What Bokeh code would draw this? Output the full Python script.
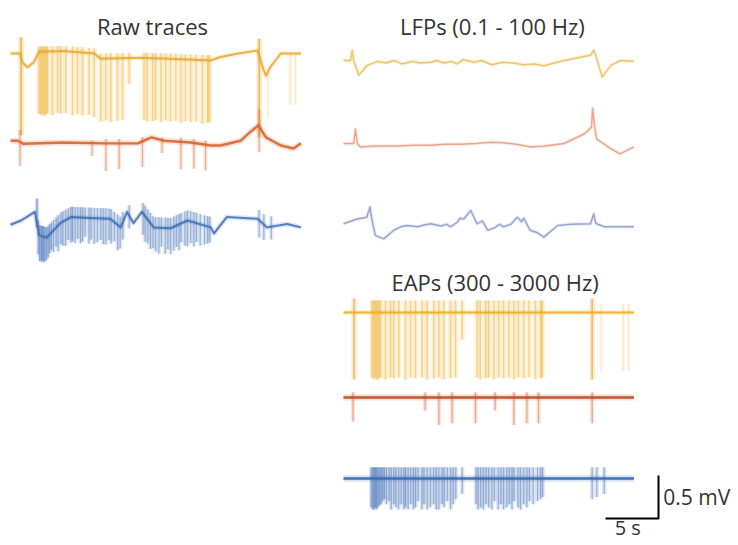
import numpy as np
from bokeh.plotting import figure
from bokeh.models import Range1d, Label
from bokeh.embed import file_html
from bokeh.resources import INLINE

# ---------------- data (time in s, voltage in mV relative to trace baseline) ----------------
titles = ["Raw traces", "LFPs (0.1 - 100 Hz)", "EAPs (300 - 3000 Hz)"]
scale_labels = ["0.5 mV", "5 s"]
scale_t = 5.0      # s
scale_v = 0.5      # mV
duration = 27.4    # s

# raw traces: slow components
raw_yel_t = [0, 0.9, 1.1, 1.6, 2.2, 2.7, 5.0, 7.9, 8.5, 12.0, 15.0, 18.9, 19.8, 21.5, 23.3, 23.9, 24.1, 24.5, 25.5, 27.4]
raw_yel_v = [0, 0, -0.1, -0.16, -0.1, 0.02, 0.03, 0.0, -0.06, -0.05, -0.06, -0.08, -0.04, 0.0, 0.035, -0.2, -0.26, -0.16, 0.0, 0.0]
raw_red_t = [0, 0.7, 1.2, 5.0, 9.0, 12.0, 13.3, 14.5, 17.0, 18.9, 19.8, 21.7, 22.6, 23.4, 24.1, 25.5, 26.7, 27.4]
raw_red_v = [0.02, 0.02, -0.015, 0.0, -0.01, -0.01, 0.06, 0.02, 0.0, -0.035, -0.035, 0.02, 0.12, 0.2, 0.06, -0.035, -0.07, -0.01]
raw_blu_t = [0, 1.0, 2.3, 2.7, 3.4, 4.7, 5.7, 7.5, 9.4, 10.4, 11.0, 11.6, 12.4, 13.5, 15.1, 16.7, 18.9, 19.2, 20.4, 23.3, 24.2, 26.1, 27.4]
raw_blu_v = [-0.05, 0.0, 0.1, -0.17, -0.2, -0.03, 0.04, 0.03, 0.02, -0.08, 0.1, -0.03, 0.1, -0.08, -0.09, 0.0, -0.08, -0.15, 0.04, 0.02, -0.08, -0.04, -0.08]

# LFPs
lfp_yel_t = [0, 0.66, 0.82, 0.95, 1.45, 2.2, 3.2, 4.0, 4.8, 5.5, 6.5, 7.2, 8.2, 8.8, 9.5, 10.2, 10.7, 11.3,
             12.3, 13.0, 14.0, 15.0, 16.0, 17.0, 18.0, 18.9, 20.8, 23.3, 23.6, 23.8, 24.4, 25.2, 26.1, 27.4]
lfp_yel_v = [0, 0, 0.12, 0, -0.17, -0.06, -0.01, -0.03, 0.0, -0.04, -0.01, -0.03, -0.02, 0.0, -0.03, -0.01, -0.04, 0.01,
             -0.02, 0.0, -0.05, -0.02, -0.03, -0.05, -0.04, -0.06, 0, 0.06, 0.12, 0.06, -0.19, -0.06, 0, -0.01]
lfp_red_t = [0, 0.97, 1.13, 1.3, 1.6, 3.0, 5.0, 6.5, 8.2, 9.5, 11.0, 12.5, 13.9, 15.0, 16.3, 17.6, 19.0, 20.8,
             22.7, 23.4, 23.5, 23.7, 23.9, 25.2, 26.1, 27.4]
lfp_red_v = [0, 0, 0.17, 0, -0.04, -0.03, -0.03, -0.02, -0.02, -0.01, -0.01, 0.0, 0.015, 0.01, -0.01, -0.04, -0.03, 0,
             0.11, 0.19, 0.41, 0.19, 0.05, -0.06, -0.12, -0.04]
lfp_blu_t = [0, 1.3, 2.2, 2.5, 2.65, 3.0, 3.8, 4.75, 5.4, 6.0, 7.0, 7.6, 8.2, 9.2, 9.7, 10.1, 10.7, 11.0, 11.35,
             12.0, 12.6, 13.1, 13.6, 14.3, 14.7, 15.1, 15.8, 16.4, 16.8, 17.0, 17.6, 18.3, 18.9, 20.2, 21.5,
             23.3, 23.6, 23.8, 24.6, 27.4]
lfp_blu_v = [-0.015, 0.04, 0.06, 0.18, 0.05, -0.15, -0.19, -0.09, -0.05, -0.035, -0.05, -0.03, -0.015, -0.04, -0.02,
             -0.05, 0.0, 0.05, 0.04, 0.14, -0.015, 0.02, -0.09, -0.06, -0.02, -0.05, -0.02, 0.06, 0.01, 0.05, -0.09,
             -0.12, -0.17, -0.035, -0.02, -0.015, 0.1, -0.01, -0.05, -0.05]

# spikes (unit 1, yellow)
yel_spike_t = [2.7, 2.86, 3.02, 3.18, 3.33, 3.49, 3.96, 4.43, 4.75, 5.22, 5.85, 6.32, 6.79, 7.42, 7.9, 8.52,
               8.99, 9.46, 10.09, 10.57, 11.2, 12.6, 12.9, 13.4, 13.7, 14.2, 14.65, 15.1, 15.6, 16.07, 16.5,
               17.0, 17.5, 18.1, 18.6, 18.75]
yel_spike_depth = [0.72, 0.74, 0.72, 0.75, 0.73, 0.72, 0.74, 0.72, 0.73, 0.72, 0.74, 0.72, 0.73, 0.72, 0.74, 0.73,
                   0.72, 0.74, 0.73, 0.72, 0.3, 0.72, 0.74, 0.73, 0.72, 0.74, 0.72, 0.73, 0.72, 0.74, 0.72,
                   0.73, 0.72, 0.74, 0.73, 0.72]
yel_big_t = [1.0, 23.46]
yel_big_top = [0.24, 0.2]
yel_big_depth = [0.9, 0.95]
yel_faint_t = [24.3, 26.4, 26.9]
yel_faint_depth = [0.55, 0.6, 0.6]

# spikes (unit 2, red)
red_spike_t = [0.9, 7.7, 9.0, 10.25, 12.45, 14.3, 16.07, 17.3, 18.4, 23.46]
red_spike_top = [0.14, 0.03, 0.05, 0.05, 0.05, 0.03, 0.05, 0.05, 0.05, 0.2]
red_spike_depth = [0.28, 0.15, 0.32, 0.3, 0.3, 0.15, 0.32, 0.3, 0.3, 0.3]

# spikes (unit 3, blue)
blu_spike_t = [2.62, 2.75, 2.9, 3.0, 3.12, 3.25, 3.4, 3.55, 3.7, 3.85,
               4.05, 4.3, 4.5, 4.75, 4.95, 5.2, 5.45, 5.7, 5.85, 6.1,
               6.35, 6.6, 6.8, 7.05, 7.4, 7.6, 7.9, 8.2, 8.5, 8.75,
               9.0, 9.3, 9.5, 9.8, 10.1, 10.35, 10.6, 11.2,
               12.5, 12.7, 12.95, 13.2, 13.45, 13.7, 14.0, 14.25, 14.6, 14.85,
               15.1, 15.4, 15.65, 15.9, 16.1, 16.45, 16.7, 17.0, 17.3, 17.55,
               17.9, 18.3, 18.6, 18.8, 23.46, 23.9, 24.6]
blu_spike_depth = [0.28, 0.3, 0.3, 0.28, 0.3, 0.28, 0.26, 0.25, 0.22, 0.2,
                   0.25, 0.22, 0.3, 0.25, 0.28, 0.3, 0.25, 0.3, 0.28, 0.3,
                   0.25, 0.3, 0.28, 0.22, 0.3, 0.25, 0.3, 0.28, 0.25, 0.3,
                   0.3, 0.25, 0.28, 0.22, 0.3, 0.25, 0.2, 0.15,
                   0.25, 0.3, 0.28, 0.3, 0.25, 0.28, 0.3, 0.22, 0.3, 0.25,
                   0.3, 0.28, 0.25, 0.3, 0.22, 0.28, 0.3, 0.25, 0.28, 0.22,
                   0.25, 0.22, 0.2, 0.18, 0.2, 0.18, 0.15]

# ---------------- layout ----------------
W, H = 738, 545
PX_S = 10.6      # px per second
PX_MV = 86.0     # px per mV
X0 = -10 / PX_S  # raw panel starts 10 px from the left

YEL, YEL_L = "#E9A62C", "#F2BE4E"
RED, RED_D = "#D9632E", "#C24E26"
BLU = "#3A6BB5"
LFP_YEL, LFP_RED, LFP_BLU = "#EDBB52", "#E59A7A", "#8A98C8"


def ypage(py):
    return -py / PX_MV


P2 = (343 - 10) / PX_S   # time offset of right-hand panels

p = figure(width=W, height=H, output_backend="svg", toolbar_location=None,
           x_range=Range1d(X0, X0 + W / PX_S), y_range=Range1d(-H / PX_MV, 0),
           x_axis_location=None, y_axis_location=None, min_border=0)
p.grid.visible = False
p.outline_line_color = None
p.background_fill_color = "white"
p.border_fill_color = "white"


def base_line(t, v, t0, y0, color, width, alpha):
    t = np.asarray(t, float); v = np.asarray(v, float)
    p.line(t + t0, v + y0, line_color=color, line_width=width * 2.5, line_alpha=alpha * 0.2,
           line_join="round")
    p.line(t + t0, v + y0, line_color=color, line_width=width, line_alpha=alpha, line_join="round")


def spike_set(ts, top, depth, t0, y0, color, width, alpha, bt=None, bv=None):
    ts = np.asarray(ts, float)
    top = np.broadcast_to(np.asarray(top, float), ts.shape)
    depth = np.broadcast_to(np.asarray(depth, float), ts.shape)
    b = np.interp(ts, bt, bv) if bt is not None else np.zeros_like(ts)
    x = ts + t0
    p.segment(x, y0 + b + top, x, y0 + b - depth, line_color=color,
              line_width=width * 3.6, line_alpha=alpha * 0.33)
    p.segment(x, y0 + b + top, x, y0 + b - depth, line_color=color,
              line_width=width, line_alpha=alpha)


# ---- raw traces ----
yr, rr, br = ypage(53), ypage(142), ypage(220)
spike_set(yel_spike_t, 0.06, yel_spike_depth, 0, yr, YEL_L, 1.5, 0.6, raw_yel_t, raw_yel_v)
spike_set(yel_big_t, yel_big_top, yel_big_depth, 0, yr, YEL, 1.5, 0.8, raw_yel_t, raw_yel_v)
spike_set(yel_faint_t, 0.0, yel_faint_depth, 0, yr, YEL_L, 1.0, 0.3, raw_yel_t, raw_yel_v)
base_line(raw_yel_t, raw_yel_v, 0, yr, YEL, 2.0, 0.85)

spike_set(red_spike_t, red_spike_top, red_spike_depth, 0, rr, RED, 1.2, 0.45, raw_red_t, raw_red_v)
base_line(raw_red_t, raw_red_v, 0, rr, RED, 2.4, 0.9)

spike_set(blu_spike_t, 0.12, blu_spike_depth, 0, br, BLU, 1.2, 0.45, raw_blu_t, raw_blu_v)
spike_set([2.5], [0.29], [0.05], 0, br, BLU, 1.2, 0.6, raw_blu_t, raw_blu_v)
base_line(raw_blu_t, raw_blu_v, 0, br, BLU, 2.0, 0.85)

# ---- LFPs ----
base_line(lfp_yel_t, lfp_yel_v, P2, ypage(60), LFP_YEL, 1.5, 0.85)
base_line(lfp_red_t, lfp_red_v, P2, ypage(143), LFP_RED, 1.5, 0.85)
base_line(lfp_blu_t, lfp_blu_v, P2, ypage(222), LFP_BLU, 1.5, 0.85)

# ---- EAPs ----
ye, re_, be = ypage(312), ypage(397), ypage(478)
spike_set(yel_spike_t, 0.14, np.asarray(yel_spike_depth) * 1.05, P2, ye, YEL_L, 1.5, 0.6)
spike_set(yel_big_t, 0.16, 0.78, P2, ye, YEL, 1.5, 0.7)
spike_set(yel_faint_t, 0.1, 0.68, P2, ye, YEL_L, 1.0, 0.3)
base_line([0, duration], [0, 0], P2, ye, "#EFAF2A", 1.8, 0.95)

spike_set(red_spike_t, 0.06, red_spike_depth, P2, re_, RED, 1.2, 0.5)
base_line([0, duration], [0, 0], P2, re_, RED_D, 2.4, 0.95)

spike_set(blu_spike_t, 0.13, np.asarray(blu_spike_depth) * 1.2, P2, be, BLU, 1.3, 0.45)
base_line([0, duration], [0, 0], P2, be, BLU, 2.6, 0.95)

# ---- scale bar ----
cx, cy = X0 + 658 / PX_S, ypage(518)
p.line([cx - scale_t, cx, cx], [cy, cy, cy + scale_v], line_color="black", line_width=2)

# ---- texts ----
font = "Open Sans"
for txt, xc, yc in [(titles[0], duration / 2 - 0.3, ypage(25)),
                    (titles[1], P2 + duration / 2 + 0.35, ypage(25)),
                    (titles[2], P2 + duration / 2 + 0.6, ypage(281))]:
    p.add_layout(Label(x=xc, y=yc, text=txt, text_font=font, text_font_size="22px",
                       text_color="#333333", text_align="center", text_baseline="middle"))
p.add_layout(Label(x=cx + 0.45, y=cy + scale_v / 2, text=scale_labels[0], text_font=font,
                   text_font_size="21px", text_color="#333333", text_align="left",
                   text_baseline="middle"))
p.add_layout(Label(x=cx - scale_t / 2 - 0.4, y=ypage(527), text=scale_labels[1], text_font=font,
                   text_font_size="20px", text_color="#333333", text_align="center",
                   text_baseline="middle"))

open("out.html", "w").write(file_html(p, INLINE))
